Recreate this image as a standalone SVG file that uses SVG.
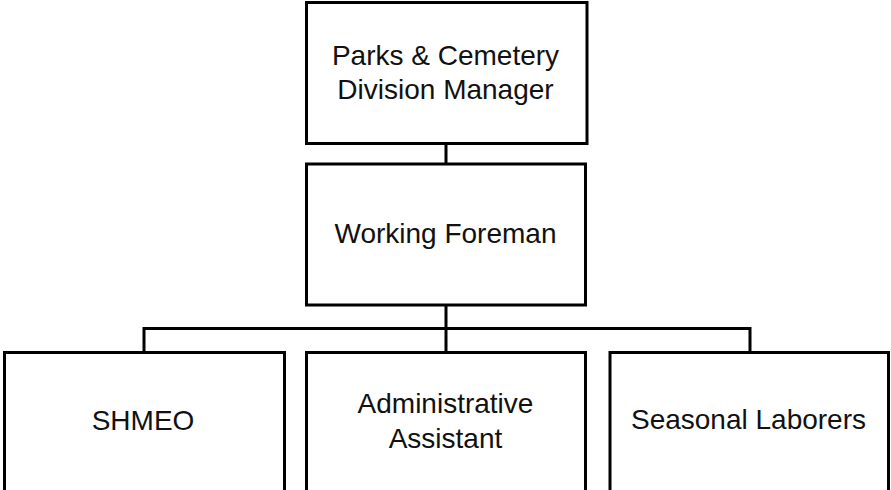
<svg xmlns="http://www.w3.org/2000/svg" width="891" height="490" viewBox="0 0 891 490">
<style>
.box{fill:#fff;stroke:#000;stroke-width:3}
.lbl{font-family:"Liberation Sans",Arial,sans-serif;font-size:28px;fill:#111;text-anchor:middle}
.conn{fill:none;stroke:#000;stroke-width:3}
</style>
<rect width="891" height="490" fill="#fff"/>
<g id="connectors">
<path class="conn" d="M446 143.5V164"/>
<path class="conn" d="M446 305V352.5"/>
<path class="conn" d="M144 352.5V328.5H750V352.5"/>
</g>
<g id="manager">
<rect class="box" x="306.5" y="2.5" width="280.5" height="141"/>
<text class="lbl" x="445.5" y="65">Parks &amp; Cemetery</text>
<text class="lbl" x="445.5" y="99">Division Manager</text>
</g>
<g id="foreman">
<rect class="box" x="306.5" y="164" width="279" height="141"/>
<text class="lbl" x="445.5" y="243">Working Foreman</text>
</g>
<g id="shmeo">
<rect class="box" x="4.5" y="352.5" width="280" height="150"/>
<text class="lbl" x="143" y="430">SHMEO</text>
</g>
<g id="admin">
<rect class="box" x="306.5" y="352.5" width="279" height="150"/>
<text class="lbl" x="445.5" y="413">Administrative</text>
<text class="lbl" x="445.5" y="448">Assistant</text>
</g>
<g id="seasonal">
<rect class="box" x="610" y="352.5" width="278.5" height="150"/>
<text class="lbl" x="748.5" y="429">Seasonal Laborers</text>
</g>
</svg>
